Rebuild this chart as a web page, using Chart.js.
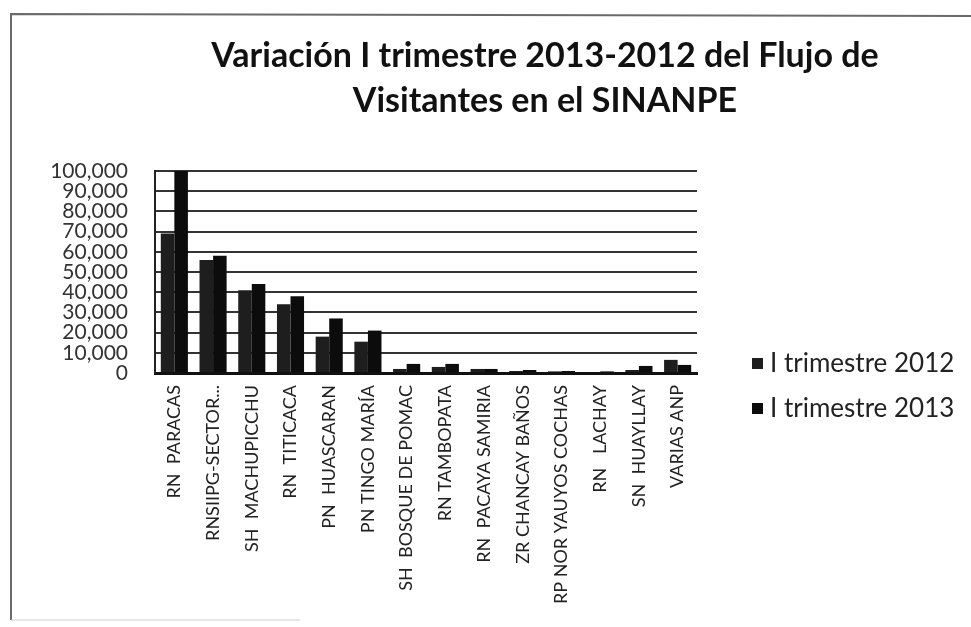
<!DOCTYPE html>
<html>
<head>
<meta charset="utf-8">
<script src="https://cdn.jsdelivr.net/npm/chart.js@4.4.1/dist/chart.umd.min.js"></script>
<style>
  html, body { margin: 0; padding: 0; background: #ffffff; }
  #wrap { width: 971px; height: 627px; position: relative; }
</style>
</head>
<body>
<div id="wrap"><canvas id="c" width="971" height="627"></canvas></div>
<script>
const titleLines = ['Variación I trimestre 2013-2012 del Flujo de', 'Visitantes en el SINANPE'];
const categories = ['RN  PARACAS', 'RNSIIPG-SECTOR...', 'SH  MACHUPICCHU', 'RN  TITICACA', 'PN  HUASCARAN', 'PN TINGO MARÍA', 'SH  BOSQUE DE POMAC', 'RN TAMBOPATA', 'RN  PACAYA SAMIRIA', 'ZR CHANCAY BAÑOS', 'RP NOR YAUYOS COCHAS', 'RN   LACHAY', 'SN  HUAYLLAY', 'VARIAS ANP'];
const seriesNames = ['I trimestre 2012', 'I trimestre 2013'];
const values2012 = [69000, 56000, 41000, 34000, 18000, 15500, 2000, 3000, 2000, 1000, 800, 500, 1500, 6500];
const values2013 = [100000, 58000, 44000, 38000, 27000, 21000, 4500, 4500, 2000, 1500, 1000, 800, 3500, 4000];
const yMin = 0, yMax = 100000, yStep = 10000;

const colors = ['#1e1e1e', '#0c0c0c'];

const framePlugin = {
  id: 'frame',
  beforeDraw(chart) {
    const ctx = chart.ctx;
    ctx.save();
    ctx.fillStyle = '#ffffff';
    ctx.fillRect(0, 0, chart.width, chart.height);
    ctx.strokeStyle = '#6a6a6a';
    ctx.lineWidth = 2;
    ctx.beginPath();
    ctx.moveTo(11, 620);
    ctx.lineTo(11, 14);
    ctx.lineTo(971, 16);
    ctx.stroke();
    ctx.strokeStyle = '#d0d0d0';
    ctx.lineWidth = 1;
    ctx.beginPath();
    ctx.moveTo(11, 620);
    ctx.lineTo(300, 620);
    ctx.stroke();
    ctx.restore();
  },
  afterDraw(chart) {
    const ctx = chart.ctx;
    ctx.save();
    // title
    ctx.fillStyle = '#111111';
    ctx.font = 'bold 34px Lato';
    ctx.textAlign = 'center';
    ctx.textBaseline = 'middle';
    ctx.fillText(titleLines[0], 545, 56);
    ctx.fillText(titleLines[1], 545, 101);
    // legend
    ctx.textAlign = 'left';
    ctx.font = '26px Lato';
    const ys = [364, 409];
    seriesNames.forEach((n, i) => {
      ctx.fillStyle = colors[i];
      ctx.fillRect(752, ys[i] - 6, 11, 11);
      ctx.fillStyle = '#222222';
      ctx.fillText(n, 770, ys[i]);
    });
    ctx.restore();
  }
};

new Chart(document.getElementById('c'), {
  type: 'bar',
  data: {
    labels: categories,
    datasets: [
      { label: seriesNames[0], data: values2012, backgroundColor: colors[0], categoryPercentage: 0.7, barPercentage: 1.0 },
      { label: seriesNames[1], data: values2013, backgroundColor: colors[1], categoryPercentage: 0.7, barPercentage: 1.0 }
    ]
  },
  options: {
    responsive: false,
    animation: false,
    devicePixelRatio: 1,
    layout: { padding: { top: 171, right: 274, bottom: 0, left: 0 } },
    plugins: {
      legend: { display: false },
      title: { display: false },
      tooltip: { enabled: false }
    },
    scales: {
      x: {
        grid: { display: false, drawTicks: false },
        border: { display: true, color: '#111111', width: 3 },
        ticks: {
          color: '#222222',
          font: { family: 'Lato', size: 18 },
          minRotation: 90, maxRotation: 90,
          autoSkip: false,
          padding: 12
        },
        afterFit(scale) { scale.height = 254; }
      },
      y: {
        min: yMin, max: yMax,
        grid: { color: '#333333', lineWidth: 2, drawTicks: false },
        border: { display: true, color: '#222222', width: 2 },
        ticks: {
          stepSize: yStep,
          autoSkip: false,
          color: '#333333',
          font: { family: 'Lato', size: 21 },
          padding: 27,
          callback: v => v.toLocaleString('en-US')
        },
        afterFit(scale) { scale.width = 155; }
      }
    }
  },
  plugins: [framePlugin]
});
</script>
</body>
</html>
